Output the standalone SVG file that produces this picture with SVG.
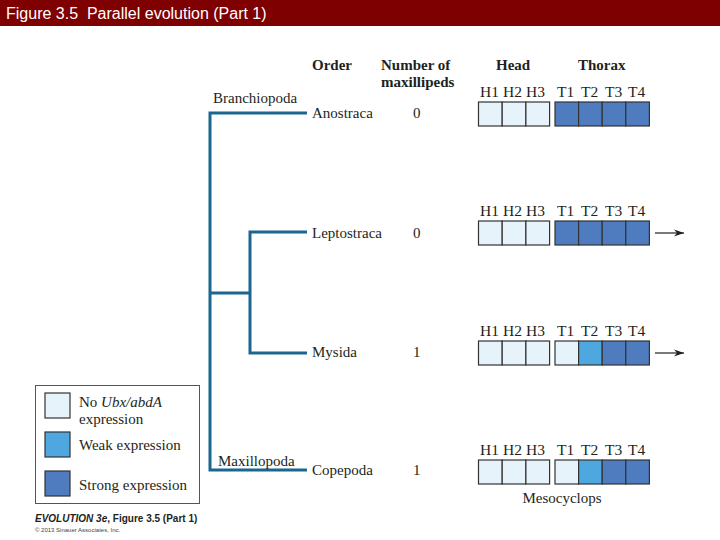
<svg xmlns="http://www.w3.org/2000/svg" width="720" height="540" viewBox="0 0 720 540">
<style>
.t{font-family:"Liberation Serif",serif;font-size:15px;fill:#231f20}
.b{font-weight:bold}
.s{font-family:"Liberation Serif",serif;font-size:15.5px;fill:#231f20}
.n{stroke:#333;stroke-width:1.2}
.l{fill:#e6f3fb}.w{fill:#4ea7de}.k{fill:#4f7cbf}
.tree{fill:none;stroke:#1b6690;stroke-width:3}
</style>
<defs>
<marker id="ah" viewBox="0 0 10 10" refX="10" refY="5" markerWidth="10" markerHeight="10" markerUnits="userSpaceOnUse" orient="auto"><path d="M0,1.5 L10,5 L0,8.5 L3,5 Z" fill="#231f20"/></marker>
<g id="lab"><text class="s" x="480" y="0">H1</text><text class="s" x="503" y="0">H2</text><text class="s" x="526" y="0">H3</text><text class="s" x="557" y="0">T1</text><text class="s" x="581" y="0">T2</text><text class="s" x="605" y="0">T3</text><text class="s" x="628" y="0">T4</text></g>
</defs>
<rect x="0" y="0" width="720" height="26" fill="#7f0000"/>
<text x="6" y="19" font-family="Liberation Sans,Arial,sans-serif" font-size="16" fill="#fff" xml:space="preserve">Figure 3.5  Parallel evolution (Part 1)</text>

<g id="headers">
<text class="t b" x="312" y="70">Order</text>
<text class="t b" x="381" y="70">Number of</text>
<text class="t b" x="381" y="87">maxillipeds</text>
<text class="t b" x="496" y="70">Head</text>
<text class="t b" x="578" y="70">Thorax</text>
</g>

<g id="connectors">
<path class="tree" d="M307,113 H210 V470 H307"/>
<path class="tree" d="M210,293 H250"/>
<path class="tree" d="M307,232 H250 V353 H307"/>
<line x1="655" y1="233" x2="684" y2="233" stroke="#231f20" stroke-width="1.2" marker-end="url(#ah)"/>
<line x1="655" y1="353" x2="684" y2="353" stroke="#231f20" stroke-width="1.2" marker-end="url(#ah)"/>
</g>

<g id="anostraca">
<text class="t" x="213" y="103" font-size="15.5">Branchiopoda</text>
<text class="t" x="312" y="118">Anostraca</text>
<text class="t" x="413" y="118">0</text>
<use href="#lab" y="97"/>
<rect class="n l" x="478.5" y="102" width="23.7" height="24"/><rect class="n l" x="502.2" y="102" width="23.7" height="24"/><rect class="n l" x="525.9" y="102" width="23.7" height="24"/>
<rect class="n k" x="555" y="102" width="23.6" height="24"/><rect class="n k" x="578.6" y="102" width="23.6" height="24"/><rect class="n k" x="602.2" y="102" width="23.6" height="24"/><rect class="n k" x="625.8" y="102" width="23.6" height="24"/>
</g>

<g id="leptostraca">
<text class="t" x="312" y="238">Leptostraca</text>
<text class="t" x="413" y="238">0</text>
<use href="#lab" y="216"/>
<rect class="n l" x="478.5" y="221" width="23.7" height="24"/><rect class="n l" x="502.2" y="221" width="23.7" height="24"/><rect class="n l" x="525.9" y="221" width="23.7" height="24"/>
<rect class="n k" x="555" y="221" width="23.6" height="24"/><rect class="n k" x="578.6" y="221" width="23.6" height="24"/><rect class="n k" x="602.2" y="221" width="23.6" height="24"/><rect class="n k" x="625.8" y="221" width="23.6" height="24"/>
</g>

<g id="mysida">
<text class="t" x="312" y="357">Mysida</text>
<text class="t" x="413" y="357">1</text>
<use href="#lab" y="336"/>
<rect class="n l" x="478.5" y="341" width="23.7" height="24"/><rect class="n l" x="502.2" y="341" width="23.7" height="24"/><rect class="n l" x="525.9" y="341" width="23.7" height="24"/>
<rect class="n l" x="555" y="341" width="23.6" height="24"/><rect class="n w" x="578.6" y="341" width="23.6" height="24"/><rect class="n k" x="602.2" y="341" width="23.6" height="24"/><rect class="n k" x="625.8" y="341" width="23.6" height="24"/>
</g>

<g id="copepoda">
<text class="t" x="218" y="466">Maxillopoda</text>
<text class="t" x="312" y="475">Copepoda</text>
<text class="t" x="413" y="475">1</text>
<use href="#lab" y="455"/>
<rect class="n l" x="478.5" y="460" width="23.7" height="24"/><rect class="n l" x="502.2" y="460" width="23.7" height="24"/><rect class="n l" x="525.9" y="460" width="23.7" height="24"/>
<rect class="n l" x="555" y="460" width="23.6" height="24"/><rect class="n w" x="578.6" y="460" width="23.6" height="24"/><rect class="n k" x="602.2" y="460" width="23.6" height="24"/><rect class="n k" x="625.8" y="460" width="23.6" height="24"/>
<text class="t" x="562" y="503" text-anchor="middle">Mesocyclops</text>
</g>

<g id="legend">
<rect x="35.5" y="385.5" width="164" height="118" fill="#fff" stroke="#555" stroke-width="1"/>
<rect class="n l" x="45" y="393" width="25" height="25"/>
<rect class="n w" x="45" y="432" width="25" height="25"/>
<rect class="n k" x="45" y="471" width="25" height="25"/>
<text class="t" x="79" y="407">No <tspan font-style="italic">Ubx/abdA</tspan></text>
<text class="t" x="79" y="424">expression</text>
<text class="t" x="79" y="450">Weak expression</text>
<text class="t" x="79" y="490">Strong expression</text>
</g>

<g id="credit">
<text x="35" y="522" font-family="Liberation Sans,Arial,sans-serif" font-size="10" font-weight="bold" fill="#231f20"><tspan font-style="italic">EVOLUTION 3e</tspan>, Figure 3.5 (Part 1)</text>
<text x="35" y="532" font-family="Liberation Sans,Arial,sans-serif" font-size="6" fill="#444">© 2013 Sinauer Associates, Inc.</text>
</g>
</svg>
